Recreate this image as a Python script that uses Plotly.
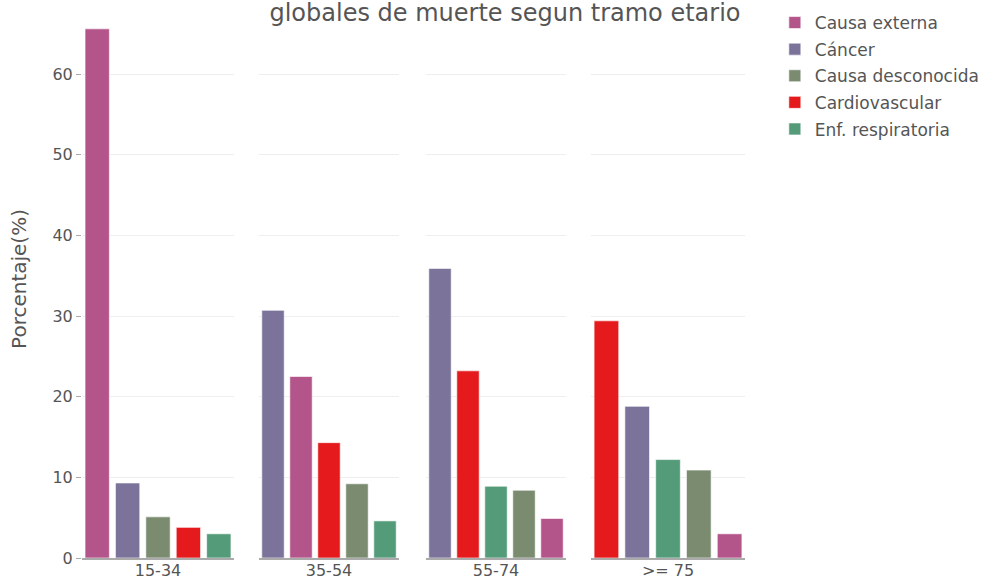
import plotly.graph_objects as go

# ---- data ----
age_groups = ["15-34", "35-54", "55-74", ">= 75"]
causes = ["Causa externa", "Cáncer", "Causa desconocida", "Cardiovascular", "Enf. respiratoria"]
causa_externa = [65.6, 22.5, 4.9, 3.0]
cancer = [9.3, 30.7, 35.9, 18.8]
causa_desconocida = [5.1, 9.2, 8.4, 10.9]
cardiovascular = [3.8, 14.3, 23.2, 29.4]
enf_respiratoria = [3.0, 4.6, 8.9, 12.2]
y_ticks = [0, 10, 20, 30, 40, 50, 60]

values = {
    "Causa externa": causa_externa,
    "Cáncer": cancer,
    "Causa desconocida": causa_desconocida,
    "Cardiovascular": cardiovascular,
    "Enf. respiratoria": enf_respiratoria,
}
colors = {
    "Causa externa": "#B3558A",
    "Cáncer": "#7B7399",
    "Causa desconocida": "#7A8B70",
    "Cardiovascular": "#E41A1C",
    "Enf. respiratoria": "#549B79",
}

W, H = 985, 580
L, R, T, B = 82, 240, 0, 22
pw = W - L - R
# pixel extents of each panel
panels_px = [(82, 234), (259, 399), (426, 566), (591, 745)]
domains = [[(a - L) / pw, (b - L) / pw] for a, b in panels_px]
y_max = (H - B - T) / ((558 - 74) / 60.0)

TXT = "#555555"
FONT = "DejaVu Sans"

fig = go.Figure()
for i, age in enumerate(age_groups):
    order = sorted(causes, key=lambda c: -values[c][i])
    xa = "x" if i == 0 else f"x{i+1}"
    ya = "y" if i == 0 else f"y{i+1}"
    for c in order:
        fig.add_trace(go.Bar(
            x=[age], y=[values[c][i]], name=c,
            marker=dict(color=colors[c], line=dict(color="rgba(255,255,255,0.6)", width=1)),
            legendgroup=c, showlegend=(i == 0),
            xaxis=xa, yaxis=ya,
        ))

layout = dict(
    width=W, height=H,
    margin=dict(l=L, r=R, t=T, b=B, autoexpand=False),
    paper_bgcolor="white", plot_bgcolor="white",
    barmode="group", bargap=0.0, bargroupgap=0.2,
    font=dict(family=FONT, color=TXT, size=16),
    title=dict(text="globales de muerte segun tramo etario",
               x=505 / W, xanchor="center", xref="container",
               y=1 - 13 / H, yanchor="middle", yref="container",
               font=dict(size=24, color=TXT)),
    legend=dict(x=1.045, xanchor="left", y=1 - 5 / (H - B), yanchor="top",
                font=dict(size=17, color=TXT), traceorder="grouped",
                tracegroupgap=1.5),
)
for i in range(4):
    k = "" if i == 0 else str(i + 1)
    layout[f"xaxis{k}"] = dict(
        domain=domains[i], anchor=f"y{k}", showgrid=False, showline=True,
        linecolor="#AAAAAA", linewidth=2, ticks="", tickfont=dict(size=16, color=TXT),
        ticklabelstandoff=-3, automargin=False, fixedrange=True,
    )
    layout[f"yaxis{k}"] = dict(
        anchor=f"x{k}", range=[0, y_max], tickvals=y_ticks, showgrid=True,
        gridcolor="#EEEEEE", zeroline=False, showline=False,
        showticklabels=(i == 0), ticks="outside" if i == 0 else "",
        ticklen=5, tickcolor="#AAAAAA", tickfont=dict(size=16, color=TXT),
        automargin=False,
    )
    if i > 0:
        layout[f"yaxis{k}"]["matches"] = "y"
layout["yaxis"]["title"] = dict(text="Porcentaje(%)", font=dict(size=20, color=TXT), standoff=20)

fig.update_layout(**layout)
fig.write_html("out.html", config={"displayModeBar": False},
               post_script="document.body.style.margin='0';")
